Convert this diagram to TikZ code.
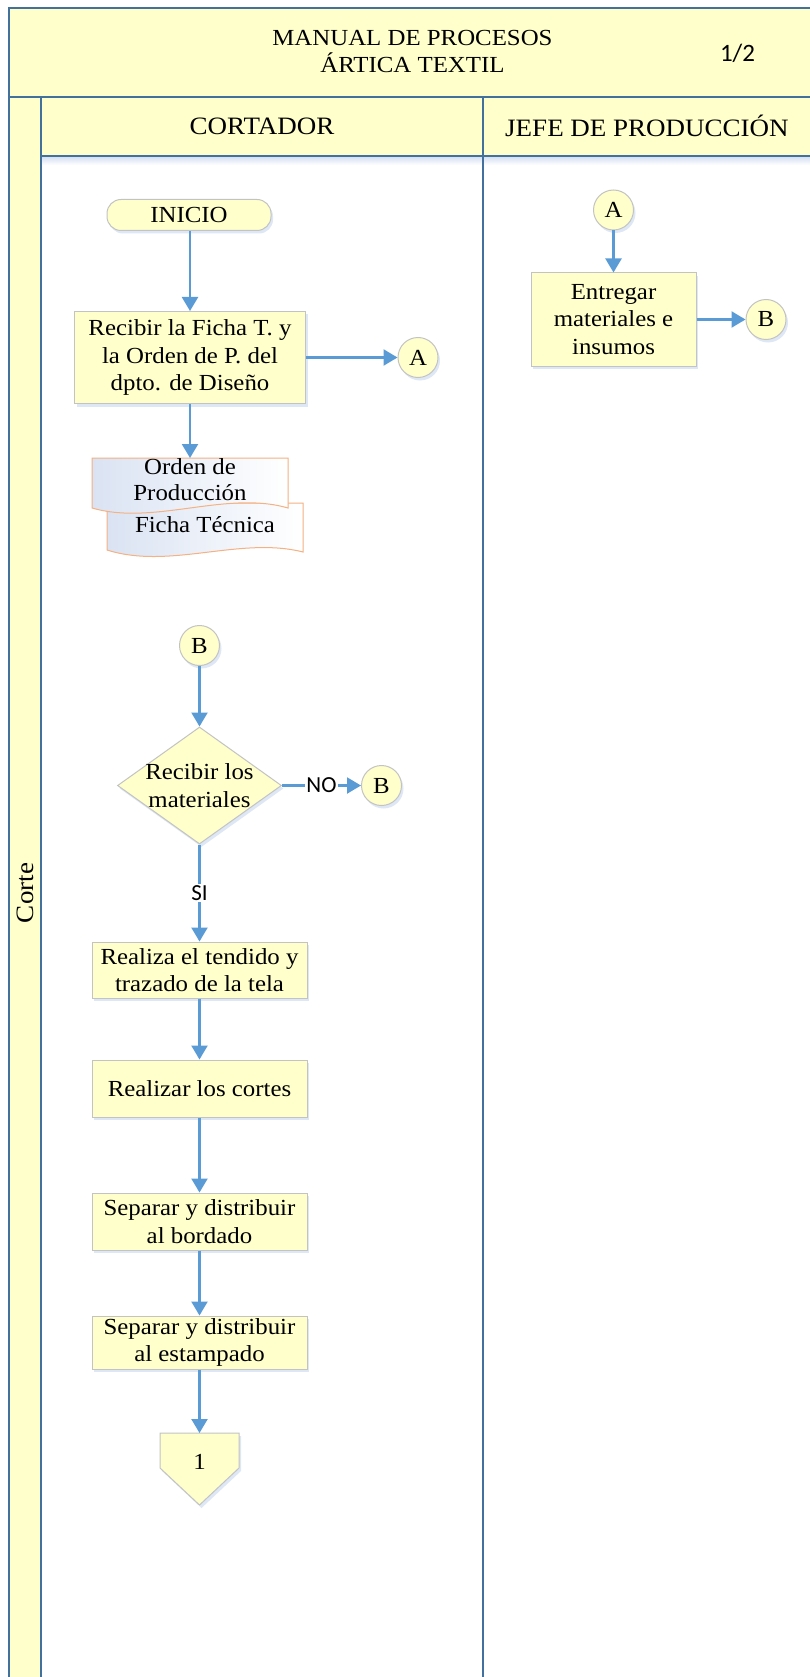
\documentclass[tikz,border=0pt]{standalone}
\usepackage{fontspec}
\setmainfont{Liberation Serif}[FakeStretch=1.08]
\newfontfamily\calibfont{Carlito}
\usetikzlibrary{shapes.geometric,arrows.meta,shadows}
\definecolor{atyellow}{RGB}{255,255,204}
\definecolor{atblue}{RGB}{65,113,156}
\definecolor{atarrow}{RGB}{91,155,213}
\definecolor{atgray}{RGB}{195,195,195}
\definecolor{atorange}{RGB}{244,177,131}
\definecolor{atdoc}{RGB}{218,227,243}
\definecolor{atshadow}{RGB}{214,225,242}

\begin{document}
\begin{tikzpicture}[x=1pt,y=-1pt,
  font=\fontsize{23}{27.5}\selectfont,
  lane/.style={atblue, line width=2pt},
  softshadow/.style={drop shadow={shadow xshift=2pt,shadow yshift=-3pt,fill=atshadow,opacity=0.8}},
  box/.style={softshadow, draw=atgray, line width=1pt, fill=atyellow, inner sep=0pt, align=center},
  conn/.style={box, circle, minimum size=40pt},
  flow/.style={atarrow, line width=2.2pt, -{Triangle[length=14pt,width=16pt]}},
  tag/.style={fill=white, text=black, inner sep=1pt, font=\calibfont\fontsize{23}{27}\selectfont}]
\useasboundingbox (0,0) rectangle (810,1677);

% Frame of the manual
\fill[atyellow] (9,8) rectangle (810,97);
\fill[atyellow] (9,97) rectangle (810,156);
\fill[atyellow] (9,97) rectangle (41,1677);
\shade[top color=atshadow, bottom color=white] (42,157) rectangle (810,165);
\draw[lane] (810,8) -- (9,8) -- (9,1677);
\draw[lane] (9,97) -- (810,97);
\draw[lane] (41,97) -- (41,1677);
\draw[lane] (41,156) -- (810,156);
\draw[lane] (483,97) -- (483,1677);

\node[align=center, font=\fontsize{23}{27}\selectfont] (title) at (412.5,51.5) {MANUAL DE PROCESOS\\ÁRTICA TEXTIL};
\node[font=\calibfont\fontsize{25}{30}\selectfont] (page) at (737.5,53) {1/2};
\node[font=\fontsize{25}{30}\selectfont] (cortador) at (262,126) {CORTADOR};
\node[font=\fontsize{25}{30}\selectfont] (jefe) at (647,126) {JEFE DE PRODUCCIÓN};
\node[rotate=90, font=\fontsize{25}{30}\selectfont] (corte) at (25,893) {Corte};

% Cortador
\node[box, rounded corners=14pt, minimum width=164pt, minimum height=31pt] (inicio) at (189,215) {INICIO};
\node[box, minimum width=231pt, minimum height=92pt] (recibir) at (190,357.5) {Recibir la Ficha T. y\\la Orden de P. del\\dpto. de Diseño};
\node[conn] (conA1) at (418,357.5) {A};

% documents
\shade[left color=atdoc, right color=white, draw=atorange, line width=1pt] (107,503) -- (303,503) -- (303,552) .. controls (240,536) and (170,570) .. (107,550) -- cycle;
\shade[left color=atdoc, right color=white, draw=atorange, line width=1pt] (92,458) -- (288,458) -- (288,508) .. controls (226,490) and (154,526) .. (92,508) -- cycle;
\coordinate (doctop) at (190,458);
\node[align=center, font=\fontsize{23}{26}\selectfont] (orden) at (190,480) {Orden de\\Producción};
\node (ficha) at (205,525) {Ficha Técnica};

\node[conn] (conB2) at (199.5,645.5) {B};
\node[box, diamond, minimum width=164pt, minimum height=117pt,
  label={[align=center]center:Recibir los\\materiales}] (dec) at (199.5,785.5) {};
\node[conn] (conB3) at (381.5,785.5) {B};
\node[box, minimum width=215pt, minimum height=56pt] (tendido) at (199.5,970) {Realiza el tendido y\\trazado de la tela};
\node[box, minimum width=215pt, minimum height=57pt] (cortes) at (199.5,1088.5) {Realizar los cortes};
\node[box, minimum width=215pt, minimum height=57pt] (bordado) at (199.5,1221.5) {Separar y distribuir\\al bordado};
\node[box, minimum width=215pt, minimum height=53pt] (estampado) at (199.5,1342.5) {Separar y distribuir\\al estampado};

% off page connector
\filldraw[softshadow, draw=atgray, fill=atyellow, line width=1pt] (160,1433) -- (239,1433) -- (239,1468) -- (199.5,1505) -- (160,1468) -- cycle;
\coordinate (off1top) at (199.5,1433);
\node (off1) at (199.5,1462) {1};

% Jefe de produccion
\node[conn] (conA2) at (613.5,210) {A};
\node[box, minimum width=165pt, minimum height=93pt] (entregar) at (613.5,319.5) {Entregar\\materiales e\\insumos};
\node[conn] (conB1) at (766,319.5) {B};

% flow
\draw[flow] (inicio.south -| recibir.north) -- (recibir.north);
\draw[flow] (recibir.east) -- (conA1.west);
\draw[flow] (recibir.south) -- (doctop);
\draw[flow] (conA2.south) -- (entregar.north);
\draw[flow] (entregar.east) -- (conB1.west);
\draw[flow] (conB2.south) -- (dec.north);
\draw[flow] (dec.east) -- node[tag] {NO} (conB3.west);
\draw[flow] (dec.south) -- node[tag] {SI} (tendido.north);
\draw[flow] (tendido.south) -- (cortes.north);
\draw[flow] (cortes.south) -- (bordado.north);
\draw[flow] (bordado.south) -- (estampado.north);
\draw[flow] (estampado.south) -- (off1top);
\end{tikzpicture}
\end{document}
